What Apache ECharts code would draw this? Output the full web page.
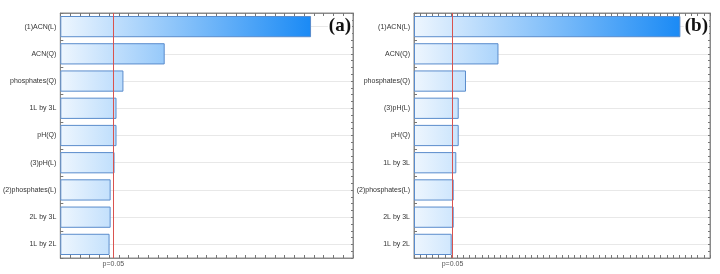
<!DOCTYPE html>
<html>
<head>
<meta charset="utf-8">
<script src="https://cdn.jsdelivr.net/npm/echarts@6/dist/echarts.min.js"></script>
<style>
html, body { margin: 0; padding: 0; background: #fff; }
#chart { width: 720px; height: 274px; }
</style>
</head>
<body>
<div id="chart"></div>
<script>
// panel (a)
let catsA = ["(1)ACN(L)", "ACN(Q)", "phosphates(Q)", "1L by 3L", "pH(Q)", "(3)pH(L)", "(2)phosphates(L)", "2L by 3L", "1L by 2L"];
let valsA = [25.7, 10.7, 6.47, 5.76, 5.76, 5.56, 5.16, 5.16, 5.05];
let pLineA = 5.44;
let xMaxA = 30;

// panel (b)
let catsB = ["(1)ACN(L)", "ACN(Q)", "phosphates(Q)", "(3)pH(L)", "pH(Q)", "1L by 3L", "(2)phosphates(L)", "2L by 3L", "1L by 2L"];
let valsB = [43.2, 13.7, 8.43, 7.25, 7.25, 6.86, 6.44, 6.44, 6.11];
let pLineB = 6.24;
let xMaxB = 48;

let panelTitles = ["(a)", "(b)"];
let pLabel = "p=0.05";

let chart = echarts.init(document.getElementById("chart"));

// gradient goes from near white at 0 to full blue at the longest bar
function barData(vals) {
    let vmax = Math.max(...vals);
    return vals.map(v => ({
        value: v,
        itemStyle: {
            color: new echarts.graphic.LinearGradient(0, 0, 1, 0, [
                {offset: 0, color: "#eef6fe"},
                {offset: 1, color: echarts.color.lerp(v / vmax, ["#eef6fe", "#1a8af5"])}
            ])
        }
    }));
}

function xAxes(gridIndex, max) {
    let base = {
        type: "value", gridIndex: gridIndex, min: 0, max: max, interval: 1,
        axisLabel: {show: false},
        axisLine: {show: true, onZero: false, lineStyle: {color: "#8a8a8a"}},
        axisTick: {show: true, inside: true, length: 3, lineStyle: {color: "#777"}},
        splitLine: {show: false}
    };
    return [
        Object.assign({}, base, {position: "bottom"}),
        Object.assign({}, base, {position: "top"})
    ];
}

function yAxes(gridIndex, cats) {
    return [
        {
            type: "category", gridIndex: gridIndex, data: cats, inverse: true,
            axisLine: {show: true, onZero: false, lineStyle: {color: "#8a8a8a"}},
            axisTick: {show: true, inside: true, length: 3, lineStyle: {color: "#777"}},
            axisLabel: {fontSize: 7, color: "#333", margin: 4, fontFamily: "Liberation Sans"},
            splitLine: {show: true, alignWithLabel: true, lineStyle: {color: "#e8e8e8"}}
        },
        {
            type: "value", gridIndex: gridIndex, position: "right", min: 0, max: 36, interval: 1,
            axisLabel: {show: false},
            axisLine: {show: true, onZero: false, lineStyle: {color: "#8a8a8a"}},
            axisTick: {show: true, inside: true, length: 2, lineStyle: {color: "#777"}},
            splitLine: {show: false}
        }
    ];
}

function barSeries(idx, vals, pLine) {
    return {
        type: "bar",
        xAxisIndex: idx * 2,
        yAxisIndex: idx * 2,
        data: barData(vals),
        barCategoryGap: "22%",
        itemStyle: {borderColor: "#5a8ccc", borderWidth: 1},
        silent: true,
        markLine: {
            silent: true,
            symbol: "none",
            lineStyle: {color: "#d9534f", width: 1, type: "solid"},
            label: {
                position: "end", formatter: pLabel, fontSize: 7, color: "#555",
                distance: 3, fontFamily: "Liberation Sans"
            },
            data: [{xAxis: pLine}]
        }
    };
}

let option = {
    animation: false,
    grid: [
        {left: 58, top: 13, width: 295, height: 245, show: true, borderColor: "#8a8a8a", borderWidth: 1},
        {left: 414, top: 13, width: 296, height: 245, show: true, borderColor: "#8a8a8a", borderWidth: 1}
    ],
    title: [
        {text: panelTitles[0], right: 368, top: 17, padding: [0, 1],
         backgroundColor: "#fff",
         textStyle: {fontFamily: "Liberation Serif", fontWeight: "bold", fontSize: 19, color: "#111"}},
        {text: panelTitles[1], right: 11, top: 17, padding: [0, 1],
         backgroundColor: "#fff",
         textStyle: {fontFamily: "Liberation Serif", fontWeight: "bold", fontSize: 19, color: "#111"}}
    ],
    xAxis: xAxes(0, xMaxA).concat(xAxes(1, xMaxB)),
    yAxis: yAxes(0, catsA).concat(yAxes(1, catsB)),
    series: [
        barSeries(0, valsA, pLineA),
        barSeries(1, valsB, pLineB)
    ]
};

chart.setOption(option);
</script>
</body>
</html>
